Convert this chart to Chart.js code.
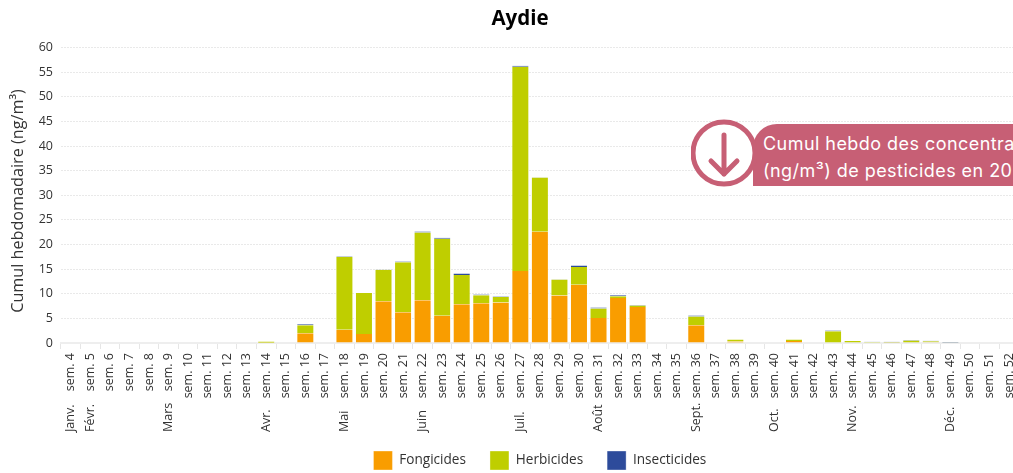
<!DOCTYPE html>
<html lang="fr">
<head>
<meta charset="utf-8">
<title>Aydie</title>
<script src="https://cdn.jsdelivr.net/npm/chart.js@4"></script>
<style>
  html, body { margin: 0; padding: 0; background: #fff; width: 1013px; height: 473px; overflow: hidden; }
  #wrap { position: relative; width: 1013px; height: 473px; overflow: hidden; }
  #c { position: absolute; left: 0; top: 0; }
  #callout {
    position: absolute; left: 753px; top: 124px; width: 360px; height: 62px;
    background: #c75f75; border-top-left-radius: 24px; color: #fff;
    font: 18px/27px Inter, sans-serif; letter-spacing: 0.45px; padding: 6px 0 0 10px;
    box-sizing: border-box; white-space: nowrap;
  }
  #icon { position: absolute; left: 691px; top: 117px; }
</style>
</head>
<body>
<div id="wrap">
  <canvas id="c" width="1028" height="473"></canvas>
  <div id="callout">Cumul hebdo des concentrations<br>(ng/m³) de pesticides en 2021</div>
  <svg id="icon" width="66" height="74" viewBox="0 0 66 74">
    <circle cx="33" cy="36" r="31" fill="#fff" stroke="#c75f75" stroke-width="5"/>
    <path d="M33 18 V57 M20 44 L33 57 L46 44" fill="none" stroke="#c75f75" stroke-width="5" stroke-linecap="round" stroke-linejoin="round"/>
  </svg>
</div>
<script>
const weeks = [4,5,6,7,8,9,10,11,12,13,14,15,16,17,18,19,20,21,22,23,24,25,26,27,28,29,30,31,32,33,34,35,36,37,38,39,40,41,42,43,44,45,46,47,48,49,50,51,52];
const labels = weeks.map((w) => "sem. " + w);

const monthNames = ["Janv.","Févr.","Mars","Avr.","Mai","Juin","Juil.","Août","Sept.","Oct.","Nov.","Déc."];
const monthWeeks = [4,5,9,14,18,22,27,31,36,40,44,49];

const fongicides = [0,0,0,0,0,0,0,0,0,0,0.05,0,2,0,
  2.7,1.85,8.5,6.25,8.7,5.55,7.85,8.05,8.25,14.6,22.6,9.65,11.85,5.1,9.15,7.3,
  0,0,3.6,0,0.3,0,0,0.4,0,0,0.1,0.1,0.05,0.1,0.15,0,0,0,0];
const herbicides = [0,0,0,0,0,0,0,0,0,0,0.25,0,1.6,0,
  14.8,8.3,6.4,10.15,13.75,15.6,5.95,1.65,1.1,41.5,11,3.25,3.6,1.9,0.35,0.3,
  0,0,1.8,0,0.4,0,0,0.3,0,2.4,0.3,0.1,0.1,0.4,0.2,0.05,0,0,0];
const insecticides = [0,0,0,0,0,0,0,0,0,0,0,0,0.2,0,
  0.1,0,0.05,0.15,0.2,0.25,0.3,0.15,0.1,0.2,0.05,0.05,0.3,0.2,0.2,0.1,
  0,0,0.2,0,0,0,0,0,0,0.15,0.03,0.03,0.1,0.1,0.1,0.12,0,0,0];

const yTitle = "Cumul hebdomadaire (ng/m³)";
const textColor = "#333";
const fontName = '"Open Sans", sans-serif';

function drawRotated(ctx, text, x, y, align) {
  ctx.save();
  ctx.translate(x, y);
  ctx.rotate(-Math.PI / 2);
  ctx.textAlign = align;
  ctx.textBaseline = "middle";
  ctx.fillText(text, 0, 0);
  ctx.restore();
}

// les mois sont calés en bas, ce que les ticks tournés ne savent pas faire
// le titre de l'axe n'est pas centré sur le tracé, on le pose à la main
const extraLabels = {
  id: "extraLabels",
  afterDraw(chart) {
    const ctx = chart.ctx;
    const x = chart.scales.x;
    ctx.save();
    ctx.fillStyle = textColor;
    ctx.font = "12.5px " + fontName;
    monthNames.forEach((name, i) => {
      drawRotated(ctx, name, x.getPixelForValue(weeks.indexOf(monthWeeks[i])), 432, "left");
    });
    ctx.font = "16.2px " + fontName;
    drawRotated(ctx, yTitle, 18, 201, "center");
    ctx.restore();
  },
};

function dataset(label, data, color) {
  return {
    label: label,
    data: data,
    backgroundColor: color,
    borderColor: "rgba(255,255,255,0.7)",
    borderWidth: { left: 1, right: 1, top: 0, bottom: 0 },
    borderSkipped: false,
  };
}

new Chart(document.getElementById("c"), {
  type: "bar",
  plugins: [extraLabels],
  data: {
    labels: labels,
    datasets: [
      dataset("Fongicides", fongicides, "#f99d00"),
      dataset("Herbicides", herbicides, "#bfce00"),
      dataset("Insecticides", insecticides, "#2d4b9b"),
    ],
  },
  options: {
    responsive: false,
    animation: false,
    layout: { padding: { left: 12, right: 0, top: 0, bottom: -7 } },
    datasets: { bar: { categoryPercentage: 0.92, barPercentage: 1 } },
    plugins: {
      tooltip: { enabled: false },
      title: {
        display: true,
        text: "Aydie",
        color: "#000",
        font: { family: fontName, size: 20.5, weight: "bold" },
        padding: { top: 7, bottom: 16 },
      },
      legend: {
        position: "bottom",
        fullSize: false,
        labels: {
          boxWidth: 19,
          boxHeight: 19,
          color: textColor,
          font: { family: fontName, size: 13.6 },
          padding: 24,
        },
      },
    },
    scales: {
      x: {
        stacked: true,
        afterFit(scale) { scale.height = 84; },
        border: { color: "#eeeeee", width: 2 },
        grid: { drawOnChartArea: false, tickLength: 6, color: "#e6e6e6" },
        ticks: {
          autoSkip: false,
          minRotation: 90,
          maxRotation: 90,
          color: textColor,
          font: { family: fontName, size: 12.5 },
          padding: 4,
        },
      },
      y: {
        stacked: true,
        min: 0,
        max: 60,
        afterFit(scale) { scale.width = 49; },
        border: { display: false, dash: [2, 1] },
        grid: { color: "#e9e9e9", drawTicks: false },
        ticks: {
          stepSize: 5,
          color: textColor,
          font: { family: fontName, size: 12.5 },
          padding: 8,
        },
      },
    },
  },
});
</script>
</body>
</html>
